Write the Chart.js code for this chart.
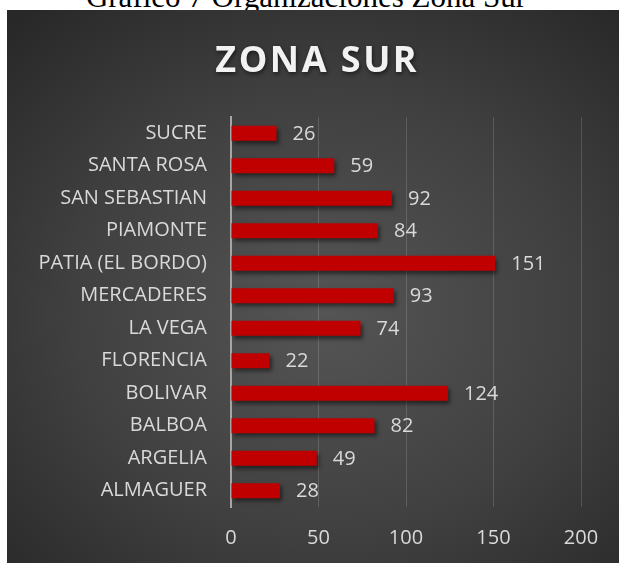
<!DOCTYPE html>
<html>
<head>
<meta charset="utf-8">
<script src="https://cdn.jsdelivr.net/npm/chart.js@4"></script>
<style>
    body { margin: 0; background: #fff; width: 619px; height: 563px; overflow: hidden; position: relative; }
    #caption {
        position: absolute; left: 0; top: -19px; width: 612px;
        font: 31px/31px "Liberation Serif", serif; color: #000;
        text-align: center; white-space: nowrap;
    }
    #chartBox {
        position: absolute; left: 7px; top: 10px; width: 612px; height: 553px;
        background: radial-gradient(ellipse 75% 72% at 52% 55%, #555555 0%, #404040 55%, #282828 100%);
    }
</style>
</head>
<body>
<div id="caption">Gráfico 7 Organizaciones Zona Sur</div>
<div id="chartBox"><canvas id="zonaChart" width="612" height="553"></canvas></div>

<script>
const chartTitle = "ZONA SUR";

const categories = [
    "SUCRE", "SANTA ROSA", "SAN SEBASTIAN", "PIAMONTE", "PATIA (EL BORDO)",
    "MERCADERES", "LA VEGA", "FLORENCIA", "BOLIVAR", "BALBOA", "ARGELIA", "ALMAGUER"
];
const organizaciones = [26, 59, 92, 84, 151, 93, 74, 22, 124, 82, 49, 28];

const xMin = 0;
const xMax = 200;
const xStep = 50;

const textColor = "#d9d9d9";
const fontFamily = "'Open Sans', sans-serif";


// title with letter spacing and a soft shadow
const titlePlugin = {
    id: "zonaTitle",
    afterDraw(chart) {
        const ctx = chart.ctx;
        ctx.save();
        ctx.font = "bold 36px " + fontFamily;
        ctx.letterSpacing = "2.5px";
        ctx.fillStyle = "#f2f2f2";
        ctx.shadowColor = "rgba(0,0,0,0.55)";
        ctx.shadowBlur = 4;
        ctx.shadowOffsetX = 1;
        ctx.shadowOffsetY = 2;
        ctx.textAlign = "left";
        ctx.textBaseline = "alphabetic";
        const w = ctx.measureText(chartTitle).width - 2.5;
        ctx.fillText(chartTitle, 309 - w / 2, 62);
        ctx.restore();
    }
};

// drop shadow under the bars
const barShadow = {
    id: "barShadow",
    beforeDatasetsDraw(chart) {
        const ctx = chart.ctx;
        ctx.save();
        ctx.shadowColor = "rgba(0,0,0,0.5)";
        ctx.shadowBlur = 4;
        ctx.shadowOffsetX = 2;
        ctx.shadowOffsetY = 3;
    },
    afterDatasetsDraw(chart) {
        chart.ctx.restore();
    }
};

// value labels right of each bar
const valueLabels = {
    id: "valueLabels",
    afterDatasetsDraw(chart) {
        const ctx = chart.ctx;
        const meta = chart.getDatasetMeta(0);
        ctx.save();
        ctx.font = "20px " + fontFamily;
        ctx.fillStyle = textColor;
        ctx.textAlign = "left";
        ctx.textBaseline = "middle";
        meta.data.forEach((bar, i) => {
            ctx.fillText(organizaciones[i], bar.x + 16, bar.y + 1);
        });
        ctx.restore();
    }
};

new Chart(document.getElementById("zonaChart"), {
    type: "bar",
    data: {
        labels: categories,
        datasets: [{
            label: "Organizaciones",
            data: organizaciones,
            backgroundColor: "#c00000",
            borderWidth: 0,
            barPercentage: 0.46,
            categoryPercentage: 1
        }]
    },
    options: {
        indexAxis: "y",
        responsive: false,
        animation: false,
        layout: { padding: { top: 107, right: 38, bottom: 0, left: 0 } },
        plugins: {
            legend: { display: false },
            tooltip: { enabled: false }
        },
        scales: {
            x: {
                min: xMin,
                max: xMax,
                ticks: {
                    stepSize: xStep,
                    color: textColor,
                    padding: 19,
                    font: { family: fontFamily, size: 20 }
                },
                grid: { color: "rgba(255,255,255,0.15)", lineWidth: 1, drawTicks: false },
                border: { display: false },
                afterFit(scale) { scale.height = 56; }
            },
            y: {
                ticks: {
                    color: textColor,
                    padding: 24,
                    font: { family: fontFamily, size: 20 }
                },
                grid: { display: false, drawTicks: false },
                border: { display: true, color: "#a6a6a6", width: 2 },
                afterFit(scale) { scale.width = 224; }
            }
        }
    },
    plugins: [titlePlugin, barShadow, valueLabels]
});
</script>
</body>
</html>
